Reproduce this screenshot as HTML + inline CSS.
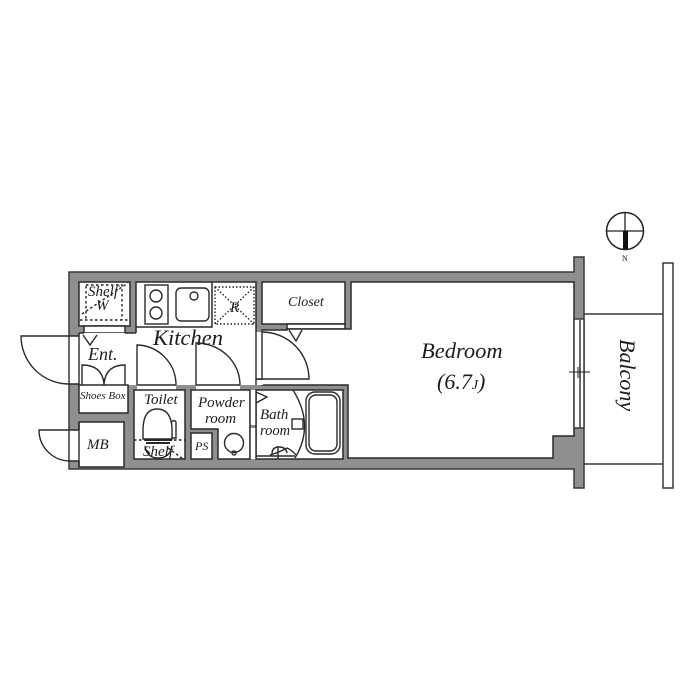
<!DOCTYPE html>
<html><head><meta charset="utf-8"><style>
html,body{margin:0;padding:0;background:#fff;width:700px;height:700px;overflow:hidden}
svg{display:block}
text{font-family:"Liberation Serif",serif;font-style:italic;fill:#1c1c1c}
</style></head><body>
<svg width="700" height="700" viewBox="0 0 700 700">
<rect width="700" height="700" fill="#fff"/>
<!-- wall mass -->
<path d="M69 272H574V257H584V488H574V469H69Z" fill="#8f8f8f" stroke="#3a3a3a" stroke-width="1.5"/>
<!-- rooms -->
<g fill="#fff" stroke="#2a2a2a" stroke-width="1.5">
<path d="M79 282H130V326H79Z"/>
<rect x="84" y="326" width="41" height="7"/>
<path d="M136 282H256V385H79V333H136Z" stroke="none"/>
<path d="M136 333V282H256V385M79 333H84M125 333H136M79 333V385" fill="none"/>
<path d="M136 327H212V282" fill="none"/>
<rect x="79" y="385" width="49" height="28"/>
<rect x="79" y="422" width="45" height="45"/>
<rect x="134" y="390" width="51" height="69"/>
<path d="M191 390H250V459H218V429H191Z"/>
<rect x="191" y="433" width="21" height="26"/>
<rect x="256" y="390" width="87" height="69"/>
<rect x="262" y="282" width="83" height="42"/>
<path d="M287 324V329H345V324Z"/>
<path d="M351 282H574V436H553V458H348V385H262V330H287V329H351Z"/>
</g>
<!-- openings -->
<g fill="#fff" stroke="none">
<rect x="68" y="336" width="12" height="48"/>
<rect x="68" y="430" width="12" height="31"/>
<rect x="137" y="383" width="39" height="8"/>
<rect x="196" y="383" width="44" height="8"/>
<rect x="255" y="332" width="8" height="47"/>
<rect x="255" y="380" width="8" height="5"/>
<rect x="574" y="319" width="10" height="109"/>
<rect x="250" y="390" width="6" height="35"/>
<rect x="250" y="428" width="6" height="31"/>
</g>
<g fill="none" stroke="#2a2a2a" stroke-width="1.4">
<!-- opening frame lines -->
<path d="M69 336H79M69 384H79M79 336V384M69 336V384"/>
<path d="M69 430H79M69 461H79M79 422V467M69 430V461"/>
<path d="M137 385H176M137 390H176M196 385H240M196 390H240"/>
<path d="M256 332V379M262 332V379M256 379H262M256 385V380"/>
<path d="M250 390V425M256 390V459M250 428V459"/>
<!-- doors -->
<path d="M69 336H21A48 48 0 0 0 69 384"/>
<path d="M69 430H39A31 31 0 0 0 69 461"/>
<path d="M137 385V345A40 40 0 0 1 176 385"/>
<path d="M196 385V343A44 42 0 0 1 240 385"/>
<path d="M262 379H309A47 47 0 0 0 262 332"/>
<path d="M293 390Q315 425 295 458"/>
<rect x="292" y="419" width="11" height="10" fill="#fff"/>
<!-- door arrows -->
<path d="M83 335L90 345L97 335"/>
<path d="M289 330L296 341L302 330"/>
<path d="M256 392L267 397L256 403"/>
<!-- shoe box doors -->
<path d="M82 385V365Q103 365 104 385Q105 365 125 365V385"/>
<!-- cooktop -->
<rect x="145" y="285" width="23" height="39"/>
<circle cx="156" cy="296" r="6"/><circle cx="156" cy="313" r="6"/>
<!-- sink -->
<rect x="176" y="288" width="33" height="33" rx="5"/>
<circle cx="194" cy="296" r="4"/>
<!-- toilet -->
<path d="M143 439V428Q144 409 157 409Q171 409 172 428V439Z"/>
<path d="M145 440H172M146 443H170" stroke-width="2"/>
<path d="M172 438H176V422Q174 419 172 422"/>
<path d="M145 446Q147 458 158 458Q170 458 172 446"/>
<!-- tub -->
<rect x="306" y="392" width="34" height="62" rx="9"/>
<rect x="309" y="395" width="28" height="56" rx="7"/>
<!-- basin -->
<circle cx="234" cy="443" r="9.5"/>
<circle cx="234" cy="453" r="2"/>
<!-- bath fitting -->
<path d="M256 456H295M270 455Q280 452 287 448Q292 450 296 455M272 454Q272 447 279 447Q286 447 287 453M278 446V459"/>
</g>
<!-- dashed -->
<g fill="none" stroke="#222" stroke-width="1.4" stroke-dasharray="2.5 2.5">
<path d="M86 286V320M86 285H122V320M80 320H128M82 314L128 283"/>
<rect x="215" y="287" width="39" height="37" stroke-dasharray="1.5 2"/>
<path d="M215 287L254 324M254 287L215 324" stroke-dasharray="1.5 2"/>
<path d="M134 440H185M168 448L183 459"/>
</g>
<!-- balcony -->
<g fill="none" stroke="#3a3a3a" stroke-width="1.5">
<path d="M584 314H663M584 464H663"/>
<rect x="663" y="263" width="10" height="225"/>
<path d="M580 320V428M574 319H584M574 428H584M574 319V428M584 319V428"/>
</g>
<path d="M569 372H590M578 367V378M580 367V378" stroke="#222" stroke-width="1" fill="none"/>
<!-- compass -->
<circle cx="625" cy="231" r="18.5" fill="#fff" stroke="#222" stroke-width="1.5"/>
<path d="M625 212V250M606 231H644" stroke="#222" stroke-width="1.3"/>
<rect x="623" y="231" width="5" height="18" fill="#111"/>
<!-- labels -->
<text x="88" y="296" font-size="15">Shelf</text>
<text x="96" y="310" font-size="15">W</text>
<text x="153" y="345" font-size="22.5">Kitchen</text>
<text x="88" y="360" font-size="18">Ent.</text>
<text x="80" y="399" font-size="11">Shoes Box</text>
<text x="144" y="404" font-size="15">Toilet</text>
<text x="143" y="456" font-size="15">Shelf</text>
<text x="87" y="449" font-size="15">MB</text>
<text x="198" y="407" font-size="15">Powder</text>
<text x="205" y="423" font-size="15">room</text>
<text x="195" y="450" font-size="12">PS</text>
<text x="260" y="419" font-size="15">Bath</text>
<text x="260" y="435" font-size="14.5">room</text>
<text x="230" y="312" font-size="15">R</text>
<text x="288" y="306" font-size="14">Closet</text>
<text x="421" y="358" font-size="22.5">Bedroom</text>
<text x="437" y="389" font-size="22">(6.7<tspan font-size="14">J</tspan>)</text>
<text transform="translate(620,339) rotate(90)" font-size="22">Balcony</text>
<text x="622" y="261" font-size="8" style="font-style:normal">N</text>
</svg>
</body></html>
